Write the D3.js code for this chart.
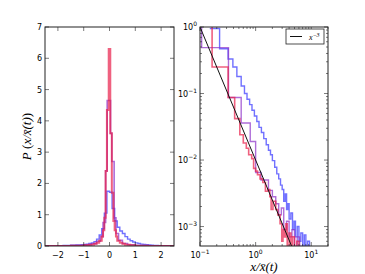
<!DOCTYPE html>
<html>
<head>
<meta charset="utf-8">
<script src="https://cdn.jsdelivr.net/npm/d3@7"></script>
<style>
  body { margin: 0; background: #fff; }
  svg text { font-family: "DejaVu Sans", sans-serif; }
</style>
</head>
<body>
<div id="chart"></div>
<script>
// ---- left panel: histograms of x / xbar(t) (bin edges + heights)
const blueStart = -2.5, blueWidth = 0.1;
const blueHeights = [0.005, 0.005, 0.007, 0.008, 0.01,
    0.01, 0.012, 0.014, 0.016, 0.02,
    0.022, 0.025, 0.03, 0.035, 0.04,
    0.05, 0.06, 0.08, 0.1, 0.14,
    0.22, 0.35, 0.55, 1.05, 1.75,
    1.72, 1.2, 0.8, 0.6, 0.48,
    0.4, 0.3, 0.22, 0.17, 0.13,
    0.1, 0.08, 0.06, 0.05, 0.04,
    0.03, 0.025, 0.02, 0.016, 0.013,
    0.01, 0.008, 0.006, 0.005, 0.004];
const blueEdges = blueHeights.map((d, i) => blueStart + i * blueWidth).concat([blueStart + blueHeights.length * blueWidth]);

const purpleEdges = [-2.5, -1.5, -1, -0.7, -0.5, -0.35, -0.25, -0.15, -0.09, 0.04, 0.09, 0.18, 0.25, 0.35, 0.5, 0.7, 1, 1.5, 2.5];
const purpleHeights = [0.005, 0.015, 0.035, 0.07, 0.15, 0.3, 0.75, 2.4, 4.65, 3.6, 2.7, 0.9, 0.4, 0.18, 0.08, 0.04, 0.015, 0.005];

const redEdges = [-2.5, -1.5, -1.0, -0.8, -0.6, -0.5, -0.4, -0.3, -0.25, -0.2, -0.15, -0.1, -0.03, 0.03, 0.09, 0.15, 0.2, 0.25, 0.3, 0.4, 0.5, 0.6, 0.8, 1.0, 1.5, 2.5];
const redHeights = [0.003, 0.01, 0.025, 0.04, 0.07, 0.1, 0.17, 0.3, 0.5, 0.9, 2.4, 4.35, 6.3, 3.6, 1.7, 0.8, 0.5, 0.3, 0.17, 0.1, 0.07, 0.04, 0.025, 0.01, 0.003];

const leftXTicks = [-2, -1, 0, 1, 2];
const leftYTicks = [0, 1, 2, 3, 4, 5, 6, 7];

// ---- right panel: log-log step curves [x, y]
const blueTail = [[0.15, 0.95], [0.225, 0.47], [0.32, 0.33], [0.39, 0.25], [0.46, 0.18], [0.55, 0.13], [0.63, 0.1],
    [0.7, 0.082], [0.78, 0.068], [0.86, 0.056], [0.95, 0.046], [1.05, 0.038], [1.15, 0.031], [1.27, 0.026],
    [1.4, 0.021], [1.55, 0.017], [1.7, 0.014], [1.85, 0.012], [2.0, 0.0098], [2.2, 0.0078], [2.4, 0.0062],
    [2.6, 0.0052], [2.8, 0.0042], [3.0, 0.0036], [3.2, 0.0024], [3.4, 0.0031], [3.6, 0.0018], [3.8, 0.0022],
    [4.0, 0.0013], [4.3, 0.0016], [4.6, 0.0009], [4.9, 0.0012], [5.2, 0.0007], [5.6, 0.001], [6.0, 0.0006],
    [6.5, 0.0008], [7.0, 0.0005], [7.5, 0.00075], [8.0, 0.0005], [8.6, 0.0006], [9.3, 0.0004], [10, 0.0004]];
const purpleTail = [[0.1, 2], [0.107, 0.49], [0.325, 0.087], [0.55, 0.036], [0.8, 0.019], [1.0, 0.0065], [1.25, 0.005],
    [1.7, 0.0035], [2.0, 0.0028], [2.3, 0.0022], [2.6, 0.0015], [2.9, 0.0019], [3.2, 0.0009], [3.6, 0.0012],
    [4.0, 0.0007], [4.5, 0.0009], [5.0, 0.0005], [5.6, 0.0007], [6.2, 0.0005], [7, 0.0004]];
const redTail = [[0.1, 2], [0.165, 0.25], [0.32, 0.087], [0.42, 0.042], [0.52, 0.024], [0.6, 0.018], [0.68, 0.015],
    [0.75, 0.012], [0.85, 0.0105], [0.92, 0.0075], [1.0, 0.0068], [1.08, 0.006], [1.2, 0.0052], [1.35, 0.0046],
    [1.5, 0.0034], [1.65, 0.0036], [1.8, 0.0028], [1.9, 0.0018], [2.05, 0.0024], [2.3, 0.0018], [2.5, 0.0015],
    [2.75, 0.0011], [2.95, 0.0006], [3.1, 0.0009], [3.3, 0.0007], [3.5, 0.0011], [3.7, 0.0005], [4.0, 0.0008],
    [4.3, 0.0004], [4.6, 0.0007], [5.0, 0.0004], [5.5, 0.0006], [6.0, 0.0004]];
const powerLawX = [0.1, 4.5];
const powerLawCoef = 0.01, powerLawExp = -2;
const legendLabel = "−3";

const BLUE = "#3535ff", PURPLE = "#8c2fc8", RED = "#e81e48";

const W = 365, H = 274;
const svg = d3.select("#chart").append("svg").attr("width", W).attr("height", H);

const left = { x0: 45, x1: 174, y0: 27, y1: 246 };
const right = { x0: 200, x1: 328, y0: 27, y1: 246 };

svg.append("defs").selectAll("clipPath")
    .data([["clipL", left], ["clipR", right]])
    .join("clipPath").attr("id", d => d[0])
    .append("rect")
    .attr("x", d => d[1].x0).attr("y", d => d[1].y0)
    .attr("width", d => d[1].x1 - d[1].x0).attr("height", d => d[1].y1 - d[1].y0);

// ---------- left panel
const xL = d3.scaleLinear().domain([-2.5, 2.5]).range([left.x0, left.x1]);
const yL = d3.scaleLinear().domain([0, 7]).range([left.y1, left.y0]);

function histPoints(edges, heights) {
    const pts = [[edges[0], 0]];
    heights.forEach((h, i) => pts.push([edges[i], h]));
    pts.push([edges[edges.length - 1], heights[heights.length - 1]]);
    pts.push([edges[edges.length - 1], 0]);
    return pts;
}
const histLine = d3.line().x(d => xL(d[0])).y(d => yL(d[1])).curve(d3.curveStepAfter);

const gL = svg.append("g").attr("clip-path", "url(#clipL)");
[[blueEdges, blueHeights, BLUE, 1.4], [purpleEdges, purpleHeights, PURPLE, 1.6], [redEdges, redHeights, RED, 2]]
    .forEach(([e, h, c, w]) => {
        gL.append("path").attr("d", histLine(histPoints(e, h)))
            .attr("fill", "none").attr("stroke", c).attr("stroke-width", w)
            .attr("stroke-opacity", 0.7);
    });

function frame(p) {
    svg.append("rect").attr("x", p.x0).attr("y", p.y0)
        .attr("width", p.x1 - p.x0).attr("height", p.y1 - p.y0)
        .attr("fill", "none").attr("stroke", "#222").attr("stroke-width", 1);
}

// ticks inside, all four sides
leftXTicks.forEach(t => {
    const x = xL(t);
    svg.append("line").attr("x1", x).attr("x2", x).attr("y1", left.y1).attr("y2", left.y1 - 4).attr("stroke", "#222").attr("stroke-width", 0.6);
    svg.append("line").attr("x1", x).attr("x2", x).attr("y1", left.y0).attr("y2", left.y0 + 4).attr("stroke", "#222").attr("stroke-width", 0.6);
    svg.append("text").attr("x", x).attr("y", left.y1 + 12).attr("text-anchor", "middle")
        .attr("font-size", 8).text(t < 0 ? "−" + Math.abs(t) : t);
});
leftYTicks.forEach(t => {
    const y = yL(t);
    svg.append("line").attr("x1", left.x0).attr("x2", left.x0 + 4).attr("y1", y).attr("y2", y).attr("stroke", "#222").attr("stroke-width", 0.6);
    svg.append("line").attr("x1", left.x1).attr("x2", left.x1 - 4).attr("y1", y).attr("y2", y).attr("stroke", "#222").attr("stroke-width", 0.6);
    svg.append("text").attr("x", left.x0 - 3).attr("y", y + 3).attr("text-anchor", "end")
        .attr("font-size", 8).text(t);
});
frame(left);

// y label
const yLab = svg.append("text")
    .attr("transform", `translate(31, ${(left.y0 + left.y1) / 2}) rotate(-90)`)
    .attr("text-anchor", "middle")
    .style("font-family", "'Liberation Serif', serif").attr("font-size", 13);
yLab.append("tspan").attr("font-style", "italic").text("P");
yLab.append("tspan").text(" (");
yLab.append("tspan").attr("font-style", "italic").text("x/x̄(t)");
yLab.append("tspan").text(")");

// ---------- right panel
const xR = d3.scaleLog().domain([0.1, 20]).range([right.x0, right.x1]);
const yR = d3.scaleLog().domain([5.1e-4, 1]).range([right.y1, right.y0]);

const tailLine = d3.line().x(d => xR(d[0])).y(d => yR(d[1])).curve(d3.curveStepAfter);
const gR = svg.append("g").attr("clip-path", "url(#clipR)");
[[blueTail, BLUE, 1.4], [purpleTail, PURPLE, 1.4], [redTail, RED, 1.6]].forEach(([pts, c, w]) => {
    const last = pts[pts.length - 1];
    const full = pts.concat([[last[0] * 1.08, last[1]]]);
    gR.append("path").attr("d", tailLine(full))
        .attr("fill", "none").attr("stroke", c).attr("stroke-width", w).attr("stroke-opacity", 0.7);
});
gR.append("path")
    .attr("d", d3.line().x(d => xR(d)).y(d => yR(powerLawCoef * Math.pow(d, powerLawExp)))(powerLawX))
    .attr("fill", "none").attr("stroke", "#111").attr("stroke-width", 1);

// log ticks
const xMajor = [0.1, 1, 10];
const yMajor = [1, 0.1, 0.01, 0.001];
const xMinor = xR.ticks().filter(t => !xMajor.includes(t));
const yMinor = yR.ticks().filter(t => !yMajor.some(m => Math.abs(m - t) < 1e-9));
function tickX(v, len) {
    const x = xR(v);
    svg.append("line").attr("x1", x).attr("x2", x).attr("y1", right.y1).attr("y2", right.y1 - len).attr("stroke", "#222").attr("stroke-width", 0.6);
    svg.append("line").attr("x1", x).attr("x2", x).attr("y1", right.y0).attr("y2", right.y0 + len).attr("stroke", "#222").attr("stroke-width", 0.6);
}
function tickY(v, len) {
    const y = yR(v);
    svg.append("line").attr("x1", right.x0).attr("x2", right.x0 + len).attr("y1", y).attr("y2", y).attr("stroke", "#222").attr("stroke-width", 0.6);
    svg.append("line").attr("x1", right.x1).attr("x2", right.x1 - len).attr("y1", y).attr("y2", y).attr("stroke", "#222").attr("stroke-width", 0.6);
}
xMinor.forEach(t => tickX(t, 2));
yMinor.forEach(t => tickY(t, 2));
xMajor.forEach(t => tickX(t, 4));
yMajor.forEach(t => tickY(t, 4));

function powLabel(x, y, anchor, exp) {
    const t = svg.append("text").attr("x", x).attr("y", y).attr("text-anchor", anchor).attr("font-size", 8);
    t.append("tspan").text("10");
    t.append("tspan").attr("font-size", 6).attr("dy", -4).text(exp);
}
xMajor.forEach(t => powLabel(xR(t), right.y1 + 12, "middle", t < 1 ? "−1" : t === 1 ? "0" : "1"));
yMajor.forEach(t => {
    const e = Math.round(Math.log10(t));
    powLabel(right.x0 - 3, yR(t) + 3, "end", e < 0 ? "−" + Math.abs(e) : "0");
});
frame(right);

// legend
svg.append("rect").attr("x", 286).attr("y", 29).attr("width", 38).attr("height", 15)
    .attr("fill", "#fff").attr("stroke", "#222").attr("stroke-width", 0.8);
svg.append("line").attr("x1", 290).attr("x2", 302).attr("y1", 36.5).attr("y2", 36.5).attr("stroke", "#111").attr("stroke-width", 1);
const lg = svg.append("text").attr("x", 309).attr("y", 39.5)
    .style("font-family", "'Liberation Serif', serif").attr("font-size", 8).attr("font-style", "italic");
lg.append("tspan").text("x");
lg.append("tspan").attr("font-size", 6).attr("dy", -3).text(legendLabel);

// x label
svg.append("text").attr("x", (right.x0 + right.x1) / 2).attr("y", 271)
    .attr("text-anchor", "middle")
    .style("font-family", "'Liberation Serif', serif").attr("font-size", 13).attr("font-style", "italic")
    .text("x/x̄(t)");
</script>
</body>
</html>
